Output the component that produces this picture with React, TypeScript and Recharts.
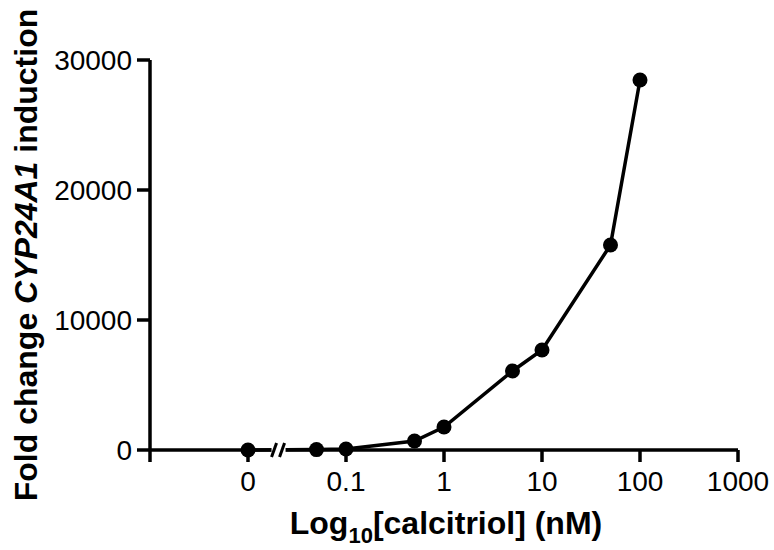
import { LineChart, Line, XAxis, YAxis, ReferenceDot } from "recharts";

// concentration in nM; the "0" dose is drawn at 0.01 on the log axis
const doses = [0.01, 0.05, 0.1, 0.5, 1, 5, 10, 50, 100];
const foldChange = [0, 30, 80, 690, 1770, 6080, 7690, 15770, 28460];
const xTicks = [0.001, 0.01, 0.1, 1, 10, 100, 1000];
const xTickLabels = ["", "0", "0.1", "1", "10", "100", "1000"];
const yTicks = [0, 10000, 20000, 30000];

const data = doses.map((d, i) => ({ dose: d, fold: foldChange[i] }));

const FONT = "'Liberation Sans', Arial, sans-serif";

function AxisBreak(props: any) {
  const { cx, cy } = props;
  return (
    <g>
      <rect x={cx - 7} y={cy - 6} width={14} height={12} fill="#fff" />
      <line x1={cx - 7} y1={cy + 7} x2={cx - 2} y2={cy - 7} stroke="#000" strokeWidth={3} />
      <line x1={cx + 1} y1={cy + 7} x2={cx + 6} y2={cy - 7} stroke="#000" strokeWidth={3} />
    </g>
  );
}

function YLabel() {
  return (
    <text
      x={37}
      y={255}
      transform="rotate(-90, 37, 255)"
      textAnchor="middle"
      fontFamily={FONT}
      fontWeight="bold"
      fontSize={32}
      fill="#000"
    >
      Fold change <tspan fontStyle="italic">CYP24A1</tspan> induction
    </text>
  );
}

function XLabel() {
  return (
    <text
      x={446}
      y={534}
      textAnchor="middle"
      fontFamily={FONT}
      fontWeight="bold"
      fontSize={32}
      fill="#000"
    >
      Log<tspan fontSize={22} dy={9}>10</tspan>
      <tspan dy={-9}>[calcitriol] (nM)</tspan>
    </text>
  );
}

export default function App() {
  return (
    <div style={{ position: "absolute", left: 0, top: 0, background: "#fff" }}>
      <LineChart
        width={774}
        height={550}
        data={data}
        margin={{ top: 60, right: 36, bottom: 0, left: 0 }}
      >
        <XAxis
          dataKey="dose"
          type="number"
          scale="log"
          domain={[0.001, 1000]}
          ticks={xTicks}
          tickFormatter={(v: number) => xTickLabels[xTicks.indexOf(v)] ?? ""}
          interval={0}
          height={100}
          tickSize={12}
          tickMargin={9}
          axisLine={{ stroke: "#000", strokeWidth: 3.5 }}
          tickLine={{ stroke: "#000", strokeWidth: 3.5 }}
          tick={{ fill: "#000", fontSize: 28, fontFamily: FONT }}
          allowDataOverflow
        />
        <YAxis
          type="number"
          domain={[0, 30000]}
          ticks={yTicks}
          interval={0}
          width={150}
          tickSize={13}
          tickMargin={5}
          axisLine={{ stroke: "#000", strokeWidth: 3.5 }}
          tickLine={{ stroke: "#000", strokeWidth: 3.5 }}
          tick={{ fill: "#000", fontSize: 28, fontFamily: FONT }}
        />
        <ReferenceDot x={0.0205} y={0} r={0} shape={AxisBreak} ifOverflow="visible" />
        <Line
          dataKey="fold"
          stroke="#000"
          strokeWidth={3.5}
          dot={{ r: 7.5, fill: "#000", stroke: "#000", strokeWidth: 0 }}
          activeDot={false}
          isAnimationActive={false}
        />
      </LineChart>
      <svg
        width={774}
        height={550}
        style={{ position: "absolute", left: 0, top: 0, pointerEvents: "none" }}
      >
        <YLabel />
        <XLabel />
      </svg>
    </div>
  );
}
